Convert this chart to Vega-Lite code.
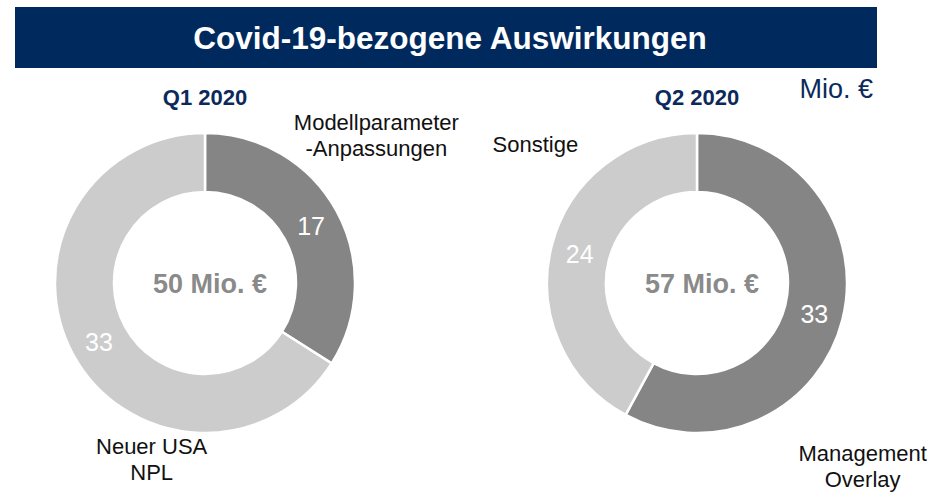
{
  "$schema": "https://vega.github.io/schema/vega-lite/v6.json",
  "padding": {"left": 15, "top": 7, "right": 0, "bottom": 0},
  "autosize": {"type": "pad"},
  "bounds": "flush",
  "spacing": 46,
  "config": {
    "view": {"stroke": null},
    "font": "Liberation Sans",
    "text": {"font": "Liberation Sans"},
    "header": {"labelFont": "Liberation Sans"}
  },
  "datasets": {
    "banner": [{"title": "Covid-19-bezogene Auswirkungen"}],
    "impacts": [
      {"quarter": "Q1 2020", "category": "Modellparameter\n-Anpassungen", "rank": 1, "value": 17},
      {"quarter": "Q1 2020", "category": "Neuer USA\nNPL", "rank": 2, "value": 33},
      {"quarter": "Q2 2020", "category": "Management\nOverlay", "rank": 1, "value": 33},
      {"quarter": "Q2 2020", "category": "Sonstige", "rank": 2, "value": 24}
    ]
  },
  "vconcat": [
    {
      "data": {"name": "banner"},
      "width": 862,
      "height": 61,
      "view": {"fill": "#002a5e", "stroke": null},
      "mark": {"type": "text", "color": "white", "fontSize": 31.5, "fontWeight": "bold", "font": "Liberation Sans", "dx": 4, "dy": 2},
      "encoding": {"text": {"field": "title"}}
    },
    {
      "data": {"name": "impacts"},
      "facet": {
        "column": {
          "field": "quarter",
          "type": "nominal",
          "header": {
            "title": null,
            "labelFontSize": 22,
            "labelFontWeight": "bold",
            "labelColor": "#0b2a5b",
            "labelFont": "Liberation Sans",
            "labelPadding": 4
          }
        }
      },
      "spacing": 112,
      "bounds": "flush",
      "resolve": {"scale": {"theta": "independent"}},
      "spec": {
        "width": 380,
        "height": 338,
        "layer": [
          {
            "mark": {"type": "arc", "radius": 150, "radius2": 91, "stroke": "white", "strokeWidth": 2.5},
            "encoding": {
              "theta": {"field": "value", "type": "quantitative", "stack": true},
              "order": {"field": "rank"},
              "color": {
                "field": "category",
                "type": "nominal",
                "scale": {
                  "domain": ["Modellparameter\n-Anpassungen", "Neuer USA\nNPL", "Management\nOverlay", "Sonstige"],
                  "range": ["#858585", "#cccccc", "#858585", "#cccccc"]
                },
                "legend": null
              }
            }
          },
          {
            "mark": {"type": "text", "radius": 121, "fill": "white", "fontSize": 25, "font": "Liberation Sans", "dy": 2},
            "encoding": {
              "theta": {"field": "value", "type": "quantitative", "stack": true},
              "order": {"field": "rank"},
              "text": {"field": "value", "type": "quantitative"}
            }
          },
          {
            "transform": [{"aggregate": [{"op": "sum", "field": "value", "as": "total"}], "groupby": ["quarter"]}],
            "mark": {"type": "text", "fontSize": 27, "fontWeight": "bold", "fill": "#8a8a8a", "font": "Liberation Sans", "dx": 5, "dy": 2, "text": {"expr": "datum.total + ' Mio. €'"}}
          },
          {
            "mark": {"type": "text", "radius": 175, "fill": "#111111", "fontSize": 22, "font": "Liberation Sans", "lineBreak": "\n", "lineHeight": 26, "dx": 18, "dy": -76},
            "encoding": {
              "theta": {"field": "value", "type": "quantitative", "stack": true},
              "order": {"field": "rank"},
              "text": {"condition": {"test": "datum.category === 'Modellparameter\\n-Anpassungen'", "field": "category"}, "value": ""}
            }
          },
          {
            "mark": {"type": "text", "radius": 175, "fill": "#111111", "fontSize": 22, "font": "Liberation Sans", "lineBreak": "\n", "lineHeight": 26, "dx": 100, "dy": 80},
            "encoding": {
              "theta": {"field": "value", "type": "quantitative", "stack": true},
              "order": {"field": "rank"},
              "text": {"condition": {"test": "datum.category === 'Neuer USA\\nNPL'", "field": "category"}, "value": ""}
            }
          },
          {
            "mark": {"type": "text", "radius": 175, "fill": "#111111", "fontSize": 22, "font": "Liberation Sans", "lineBreak": "\n", "lineHeight": 26, "dx": -4, "dy": 128},
            "encoding": {
              "theta": {"field": "value", "type": "quantitative", "stack": true},
              "order": {"field": "rank"},
              "text": {"condition": {"test": "datum.category === 'Management\\nOverlay'", "field": "category"}, "value": ""}
            }
          },
          {
            "mark": {"type": "text", "radius": 175, "fill": "#111111", "fontSize": 22, "font": "Liberation Sans", "lineBreak": "\n", "lineHeight": 26, "dx": 8, "dy": -95},
            "encoding": {
              "theta": {"field": "value", "type": "quantitative", "stack": true},
              "order": {"field": "rank"},
              "text": {"condition": {"test": "datum.category === 'Sonstige'", "field": "category"}, "value": ""}
            }
          },
          {
            "mark": {"type": "text", "align": "right", "fill": "#0b2a5b", "fontSize": 27, "font": "Liberation Sans", "dx": 176, "dy": -193},
            "encoding": {
              "text": {"condition": {"test": "datum.category === 'Sonstige'", "value": "Mio. €"}, "value": ""}
            }
          }
        ]
      }
    }
  ]
}
